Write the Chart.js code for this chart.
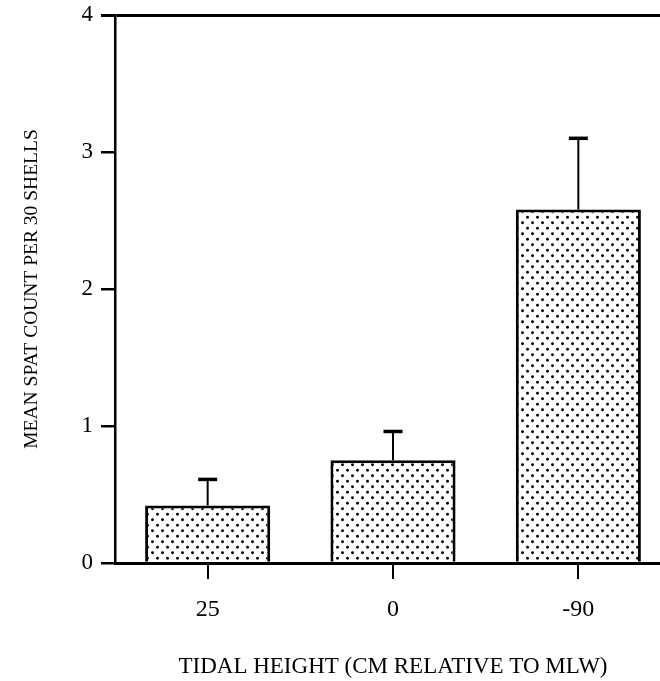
<!DOCTYPE html>
<html>
<head>
<meta charset="utf-8">
<script src="https://cdn.jsdelivr.net/npm/chart.js@4.4.1/dist/chart.umd.min.js"></script>
<style>
  html, body { margin: 0; padding: 0; background: #fff; overflow: hidden; }
  #wrap { width: 680px; height: 681px; }
</style>
</head>
<body>
<div id="wrap"><canvas id="spat" width="680" height="681"></canvas></div>
<script>
'use strict'

// tidal heights (cm relative to MLW) and mean spat counts per 30 shells
const heights = ['25', '0', '-90']
const meanSpat = [0.42, 0.75, 2.58]
const spatError = [0.19, 0.21, 0.52]
const yTicks = [0, 1, 2, 3, 4]

const SERIF = '"Liberation Serif", "Times New Roman", serif'

// stippled fill like the old dot screen
function dotPattern () {
  const tile = document.createElement('canvas')
  tile.width = 10
  tile.height = 11
  const c = tile.getContext('2d')
  c.fillStyle = '#fff'
  c.fillRect(0, 0, 10, 11)
  c.fillStyle = '#000'
  ;[[2.5, 2.75], [7.5, 8.25]].forEach(p => {
    c.beginPath()
    c.arc(p[0], p[1], 1.45, 0, Math.PI * 2)
    c.fill()
  })
  return c.createPattern(tile, 'repeat')
}

// error bars: stem from bar top up to mean + error, short cap on top
const errorBars = {
  id: 'errorBars',
  afterDatasetsDraw (chart) {
    const ctx = chart.ctx
    const meta = chart.getDatasetMeta(0)
    const y = chart.scales.y
    ctx.save()
    ctx.strokeStyle = '#000'
    meta.data.forEach((bar, i) => {
      const top = y.getPixelForValue(meanSpat[i] + spatError[i])
      ctx.lineWidth = 2
      ctx.beginPath()
      ctx.moveTo(bar.x, bar.y)
      ctx.lineTo(bar.x, top)
      ctx.stroke()
      ctx.lineWidth = 3.5
      ctx.beginPath()
      ctx.moveTo(bar.x - 9.5, top)
      ctx.lineTo(bar.x + 9.5, top)
      ctx.stroke()
    })
    ctx.restore()
  }
}

const ctx = document.getElementById('spat').getContext('2d')
const chart = new Chart(ctx, {
  type: 'bar',
  data: {
    labels: heights,
    datasets: [{
      data: meanSpat,
      backgroundColor: dotPattern(),
      borderColor: '#000',
      borderWidth: 3,
      borderSkipped: 'bottom',
      barPercentage: 0.675,
      categoryPercentage: 1.0
    }]
  },
  options: {
    responsive: false,
    animation: false,
    layout: { padding: { top: 15, right: 9, left: 0, bottom: 0 } },
    plugins: { legend: { display: false }, tooltip: { enabled: false } },
    scales: {
      x: {
        afterFit: s => { s.height = 118 },
        border: { display: true, color: '#000', width: 3 },
        grid: {
          offset: false,
          drawOnChartArea: false,
          color: '#000',
          lineWidth: 2,
          tickLength: 16
        },
        ticks: {
          color: '#000',
          padding: 16,
          font: { family: SERIF, size: 24 }
        },
        title: {
          display: true,
          text: 'TIDAL HEIGHT (CM RELATIVE TO MLW)',
          color: '#000',
          font: { family: SERIF, size: 23 },
          padding: { top: 0, bottom: 0 }
        }
      },
      y: {
        min: 0,
        max: 4,
        afterFit: s => {
          s.width = 115
          s.paddingTop = 0
          s.paddingBottom = 0
        },
        afterBuildTicks: s => { s.ticks = yTicks.map(v => ({ value: v })) },
        border: { display: true, color: '#000', width: 2.5 },
        grid: {
          drawOnChartArea: true,
          color: c => (c.tick && c.tick.value === 4 ? '#000' : 'rgba(0,0,0,0)'),
          tickColor: '#000',
          lineWidth: c => (c.tick && c.tick.value === 4 ? 3 : 2.5),
          tickLength: 14
        },
        ticks: {
          color: '#000',
          padding: 8,
          font: { family: SERIF, size: 23 }
        },
        title: {
          display: true,
          text: 'MEAN SPAT COUNT PER 30 SHELLS',
          color: '#000',
          font: { family: SERIF, size: 19.5 },
          padding: { top: 20, bottom: 0 }
        }
      }
    }
  },
  plugins: [errorBars]
})
</script>
</body>
</html>
